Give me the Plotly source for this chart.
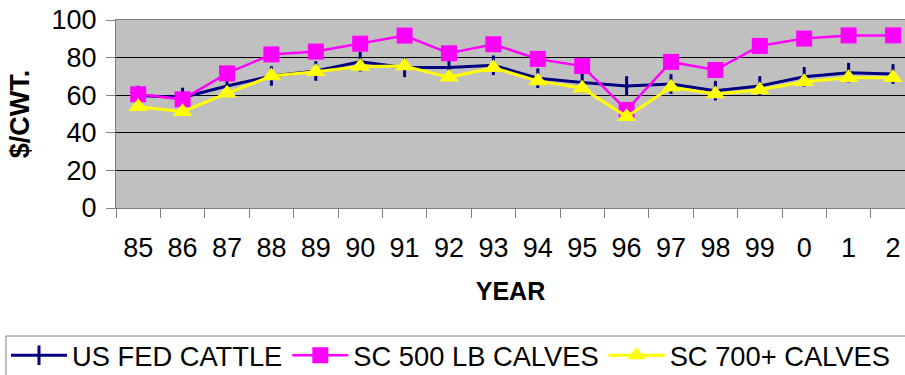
import plotly.graph_objects as go

years = ["85", "86", "87", "88", "89", "90", "91", "92", "93", "94",
         "95", "96", "97", "98", "99", "0", "1", "2"]
us_fed_cattle = [59.8, 58.8, 64.9, 70.2, 72.9, 77.8, 74.8, 74.8, 75.9, 69.0,
                 66.8, 64.9, 66.0, 62.4, 64.9, 69.8, 72.0, 71.3]
sc_500_calves = [60.5, 57.8, 71.6, 81.7, 83.2, 87.4, 91.7, 82.3, 87.1, 79.3,
                 75.5, 52.1, 77.7, 73.4, 86.2, 90.1, 91.8, 91.8]
sc_700_calves = [53.9, 51.2, 61.0, 70.2, 72.5, 75.2, 75.5, 69.5, 74.6, 67.6,
                 63.7, 48.6, 64.2, 60.6, 62.8, 67.2, 69.3, 69.3]
y_ticks = [0, 20, 40, 60, 80, 100]

FONT = "Liberation Sans, Arial, sans-serif"

fig = go.Figure()
fig.add_trace(go.Scatter(
    x=years, y=us_fed_cattle, name="US FED CATTLE", mode="lines+markers",
    line=dict(color="#000080", width=3),
    marker=dict(symbol="line-ns", size=14, color="#000080",
                line=dict(width=3, color="#000080")),
))
fig.add_trace(go.Scatter(
    x=years, y=sc_500_calves, name="SC 500 LB CALVES", mode="lines+markers",
    line=dict(color="#FF00FF", width=2.5),
    marker=dict(symbol="square", size=16, color="#FF00FF",
                line=dict(width=0)),
))
fig.add_trace(go.Scatter(
    x=years, y=sc_700_calves, name="SC 700+ CALVES", mode="lines+markers",
    line=dict(color="#FFFF00", width=3),
    marker=dict(symbol="triangle-up", size=17, color="#FFFF00",
                line=dict(width=0)),
))

px_per_cat = 44.4
plot_l, plot_t, plot_b = 116, 20, 208
plot_w = 905 - plot_l
plot_h = plot_b - plot_t


def px_x(px):
    return (px - plot_l) / plot_w


def px_y(py):
    return (plot_b - py) / plot_h


# legend frame (box runs past the right and bottom edges of the view)
fig.add_shape(type="rect", xref="paper", yref="paper",
              x0=px_x(6), x1=px_x(940), y0=px_y(336), y1=px_y(400),
              line=dict(color="#808080", width=1), fillcolor="rgba(0,0,0,0)")

fig.update_layout(
    width=905, height=375,
    margin=dict(l=plot_l, r=0, t=plot_t, b=375 - plot_b, pad=0,
                autoexpand=False),
    paper_bgcolor="white", plot_bgcolor="#C0C0C0",
    font=dict(family=FONT, size=27, color="black"),
    showlegend=True,
    legend=dict(
        orientation="h",
        x=px_x(6), xanchor="left",
        y=px_y(331), yanchor="top",
        borderwidth=0, bgcolor="rgba(0,0,0,0)",
        font=dict(family=FONT, size=27.3, color="black"),
        itemwidth=56, tracegroupgap=0,
    ),
    xaxis=dict(
        type="category", range=[-0.5, -0.5 + plot_w / px_per_cat],
        automargin=False,
        tickson="boundaries", ticks="outside", ticklen=9, tickcolor="#808080",
        tickwidth=1, showline=True, linecolor="#808080", linewidth=1,
        mirror=True, showgrid=False, ticklabelstandoff=16,
        title=dict(text="<b>YEAR</b>", font=dict(family=FONT, size=25),
                   standoff=20),
    ),
    yaxis=dict(
        range=[0, 100], tickvals=y_ticks, ticks="outside", ticklen=9,
        automargin=False,
        tickcolor="#808080", tickwidth=1, showline=True, linecolor="#808080",
        linewidth=1, showgrid=True, gridcolor="#000000", gridwidth=1,
        zeroline=False, ticklabelstandoff=4,
        title=dict(text="<b>$/CWT.</b>", font=dict(family=FONT, size=27),
                   standoff=14),
    ),
)

fig.write_html("out.html")
